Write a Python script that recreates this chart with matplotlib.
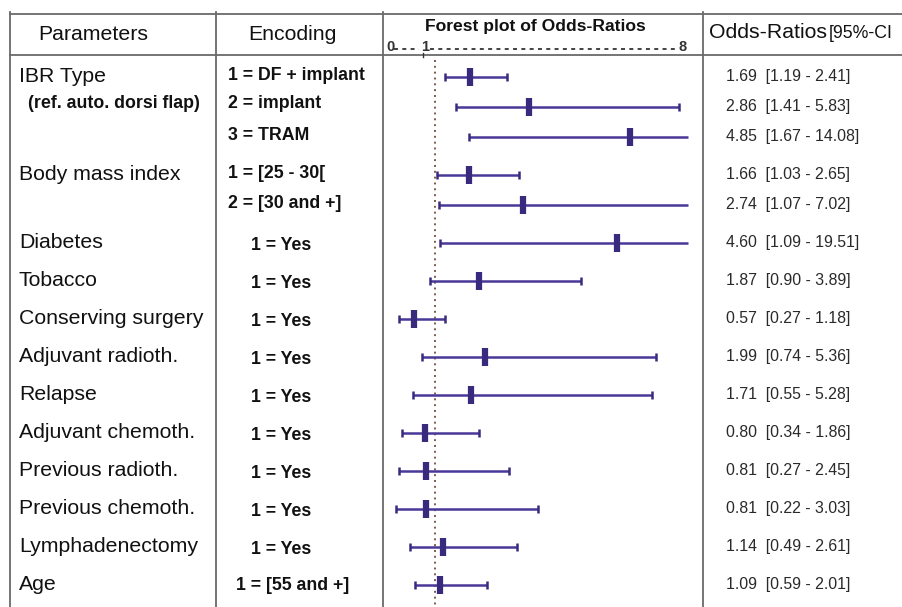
import matplotlib
matplotlib.use("Agg")
import matplotlib.pyplot as plt

plt.rcParams['font.family'] = ['Liberation Sans', 'DejaVu Sans']

# ---------------- data ----------------
parameters = ["IBR Type", "(ref. auto. dorsi flap)", "", "Body mass index", "",
              "Diabetes", "Tobacco", "Conserving surgery", "Adjuvant radioth.",
              "Relapse", "Adjuvant chemoth.", "Previous radioth.",
              "Previous chemoth.", "Lymphadenectomy", "Age"]
encodings = ["1 = DF + implant", "2 = implant", "3 = TRAM", "1 = [25 - 30[",
             "2 = [30 and +]", "1 = Yes", "1 = Yes", "1 = Yes", "1 = Yes",
             "1 = Yes", "1 = Yes", "1 = Yes", "1 = Yes", "1 = Yes",
             "1 = [55 and +]"]
odds_ratio = [1.69, 2.86, 4.85, 1.66, 2.74, 4.60, 1.87, 0.57, 1.99, 1.71,
              0.80, 0.81, 0.81, 1.14, 1.09]
ci_low = [1.19, 1.41, 1.67, 1.03, 1.07, 1.09, 0.90, 0.27, 0.74, 0.55,
          0.34, 0.27, 0.22, 0.49, 0.59]
ci_high = [2.41, 5.83, 14.08, 2.65, 7.02, 19.51, 3.89, 1.18, 5.36, 5.28,
           1.86, 2.45, 3.03, 2.61, 2.01]
group_sizes = [3, 2, 1, 1, 1, 1, 1, 1, 1, 1, 1, 1]
scale_labels = ["0", "1", "8"]
headers = ["Parameters", "Encoding", "Forest plot of Odds-Ratios", "Odds-Ratios", "[95%-CI"]

# ---------------- layout ----------------
W, H = 903, 607
fig = plt.figure(figsize=(W / 100, H / 100), dpi=100)
bg = fig.add_axes([0, 0, 1, 1])
bg.set_xlim(0, W)
bg.set_ylim(H, 0)
bg.axis('off')

# row positions (pixels) from group structure
row_y = []
y = 77
for g in group_sizes:
    for k in range(g):
        row_y.append(y)
        y += 30 if k < g - 1 else 0
    y += 38

line_col = '#6a6a6a'
lw_tab = 1.3
top, head_bot = 14, 55
col_x = [10, 216, 383, 703]
bg.plot([col_x[0], W], [top, top], color=line_col, lw=lw_tab)
bg.plot([col_x[0], W], [head_bot, head_bot], color=line_col, lw=lw_tab)
for cx in col_x:
    bg.plot([cx, cx], [top - 2, H], color=line_col, lw=lw_tab)

# headers
txt_col = '#111111'
bg.text(38, 35, headers[0], fontsize=15.3, va='center', ha='left', color=txt_col)
bg.text(248, 35, headers[1], fontsize=15.3, va='center', ha='left', color=txt_col)
bg.text(535, 26, headers[2], fontsize=12.6, fontweight='bold', va='center', ha='center', color=txt_col)
bg.text(709, 33, headers[3], fontsize=15.3, va='center', ha='left', color=txt_col)
bg.text(829, 34, headers[4], fontsize=12.8, va='center', ha='left', color=txt_col)

# scale strip under forest title
sc_col = '#333333'
for lab, sx in zip(scale_labels, [386, 421, 679]):
    bg.text(sx, 47, lab, fontsize=10.5, fontweight='bold', color=sc_col, va='center', ha='left')
bg.plot([394, 419], [48.5, 48.5], color=sc_col, lw=1.3, dashes=(2.2, 2.4))
bg.plot([430, 677], [48.5, 48.5], color=sc_col, lw=1.3, dashes=(2.2, 2.4))
bg.plot([423.5, 423.5], [53, 57], color=sc_col, lw=1.0)

# parameter + encoding + OR text
for i, (p, e) in enumerate(zip(parameters, encodings)):
    yy = row_y[i]
    if p:
        if p.startswith("("):
            bg.text(28, yy - 3, p, fontsize=12.8, fontweight='bold', va='center', ha='left', color=txt_col)
        else:
            bg.text(19, yy, p, fontsize=15.3, va='center', ha='left', color=txt_col)
    if e == "1 = Yes":
        ex, ey = 251, yy + 3
    elif i == len(encodings) - 1:
        ex, ey = 236, yy
    else:
        ex, ey = 228, yy - 1
    if i == 1:
        ey = yy - 3
    bg.text(ex, ey, e, fontsize=12.8, fontweight='bold', va='center', ha='left', color=txt_col)
    bg.text(726, yy - 1, f"{odds_ratio[i]:.2f}  [{ci_low[i]:.2f} - {ci_high[i]:.2f}]",
            fontsize=11.4, va='center', ha='left', color='#2a2a2a')

# ---------------- forest panel ----------------
px_per_unit = 50.5
x_one = 435.5
x_left_px, x_right_px = col_x[2], col_x[3]
fa = fig.add_axes([x_left_px / W, 0, (x_right_px - x_left_px) / W, 1])
fa.set_xlim(1 + (x_left_px - x_one) / px_per_unit, 1 + (x_right_px - x_one) / px_per_unit)
fa.set_ylim(H, 0)
fa.axis('off')
fa.patch.set_alpha(0)

draw_max = 6.0
bar_col = '#4a3898'
mark_col = '#3a2a7e'
fa.plot([1, 1], [60, H], color='#7e5a50', lw=1.4, linestyle=(0, (1.0, 2.0)), zorder=1)
for i in range(len(odds_ratio)):
    yy = row_y[i]
    lo, hi = ci_low[i], ci_high[i]
    hi_d = min(hi, draw_max)
    fa.plot([lo, hi_d], [yy, yy], color=bar_col, lw=1.8, solid_capstyle='butt', zorder=2)
    fa.plot([lo], [yy], marker='|', markersize=6, markeredgewidth=1.8, color=mark_col, zorder=3)
    if hi <= draw_max:
        fa.plot([hi], [yy], marker='|', markersize=6, markeredgewidth=1.8, color=mark_col, zorder=3)
    fa.plot([odds_ratio[i]], [yy], marker='|', markersize=12.5, markeredgewidth=4.5, color=mark_col, zorder=4)

fig.savefig("out.png", dpi=100)
